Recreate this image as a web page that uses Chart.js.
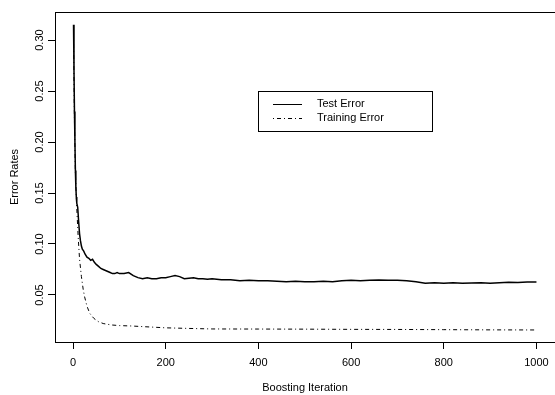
<!DOCTYPE html>
<html>
<head>
<meta charset="utf-8">
<script src="https://cdn.jsdelivr.net/npm/chart.js@4/dist/chart.umd.min.js"></script>
<style>
html,body{margin:0;padding:0;background:#fff;overflow:hidden;width:555px;height:395px;}
canvas{display:block;}
</style>
</head>
<body>
<canvas id="c" width="555" height="395"></canvas>
<script>
// ---- data ----
const testIter = [1,2,3,4,5,6,7,8,10,12,14,16,18,20,23,26,30,34,38,42,46,50,55,60,65,70,75,80,85,90,95,100,110,120,130,140,150,160,170,180,190,200,210,220,230,240,250,260,270,280,290,300,320,340,360,380,400,420,440,460,480,500,520,540,560,580,600,620,640,660,680,700,720,740,760,780,800,820,840,860,880,900,920,940,960,980,1000];
const testError = [0.315,0.27,0.23,0.20,0.172,0.156,0.146,0.140,0.136,0.122,0.110,0.103,0.098,0.095,0.093,0.090,0.087,0.086,0.084,0.085,0.082,0.080,0.078,0.076,0.075,0.074,0.073,0.072,0.071,0.071,0.072,0.071,0.071,0.072,0.069,0.067,0.066,0.067,0.066,0.066,0.067,0.067,0.068,0.069,0.068,0.066,0.0665,0.067,0.066,0.066,0.0655,0.066,0.065,0.065,0.064,0.0645,0.064,0.064,0.0635,0.063,0.0635,0.063,0.063,0.0635,0.063,0.064,0.0645,0.064,0.0645,0.0648,0.0645,0.0645,0.064,0.063,0.0615,0.062,0.0615,0.062,0.0615,0.0618,0.062,0.0615,0.062,0.0625,0.0622,0.0628,0.0628];
const trainIter = [1,3,5,8,11,14,18,22,25,30,36,45,54,65,83,100,126,150,200,250,300,400,500,600,700,800,900,1000];
const trainError = [0.30,0.22,0.17,0.135,0.107,0.085,0.068,0.055,0.048,0.039,0.032,0.027,0.024,0.022,0.0206,0.020,0.0196,0.019,0.0178,0.0172,0.0167,0.0166,0.0165,0.0163,0.0162,0.016,0.0158,0.0157];
const xTicks = [0,200,400,600,800,1000];
const yTicks = [0.05,0.10,0.15,0.20,0.25,0.30];
const seriesNames = ["Test Error","Training Error"];
const xTitle = "Boosting Iteration";
const yTitle = "Error Rates";
const legendAt = {x: 400, y: 0.25};

const FONT = "'Liberation Sans', Arial, Helvetica, sans-serif";

const framePlugin = {
  id: 'frame',
  afterDraw(chart) {
    const ctx = chart.ctx, a = chart.chartArea;
    ctx.save();
    ctx.strokeStyle = '#000';
    ctx.lineWidth = 1;
    // top edge of the plot box (its right edge lies beyond the canvas, as in the reference)
    ctx.beginPath();
    ctx.moveTo(Math.round(a.left), Math.round(a.top)+0.5);
    ctx.lineTo(chart.width, Math.round(a.top)+0.5);
    ctx.stroke();
    // legend placed in data coordinates
    const lx = Math.round(chart.scales.x.getPixelForValue(legendAt.x));
    const ly = Math.round(chart.scales.y.getPixelForValue(legendAt.y));
    ctx.strokeRect(lx+0.5, ly+0.5, 174, 40);
    ctx.font = "11px " + FONT;
    ctx.textBaseline = 'middle';
    ctx.fillStyle = '#000';
    chart.data.datasets.forEach((ds, i) => {
      const yy = ly + 13 + i*13.7;
      ctx.save();
      ctx.strokeStyle = ds.borderColor;
      ctx.lineWidth = 1;
      ctx.setLineDash(ds.borderDash || []);
      ctx.beginPath();
      ctx.moveTo(lx+15, Math.round(yy)+0.5);
      ctx.lineTo(lx+44, Math.round(yy)+0.5);
      ctx.stroke();
      ctx.restore();
      ctx.fillText(ds.label, lx+59, yy);
    });
    ctx.restore();
  }
};

new Chart(document.getElementById('c'), {
  type: 'line',
  data: {
    datasets: [
      { label: seriesNames[0], data: testIter.map((x,i)=>({x:x, y:testError[i]})), borderColor: '#000', borderWidth: 1.5, pointRadius: 0, tension: 0, fill: false },
      { label: seriesNames[1], data: trainIter.map((x,i)=>({x:x, y:trainError[i]})), borderColor: '#000', borderWidth: 1, borderDash: [1,3,4,3], pointRadius: 0, tension: 0, fill: false }
    ]
  },
  options: {
    responsive: false, animation: false, devicePixelRatio: 1,
    layout: { autoPadding: false, padding: { top: 12, right: 0, bottom: 0, left: 0 } },
    plugins: { legend: { display: false }, tooltip: { enabled: false } },
    scales: {
      x: {
        type: 'linear', min: -39, max: 1040,
        afterBuildTicks(s){ s.ticks = xTicks.map(v=>({value:v})); },
        afterFit(s){ s.height = 53; s.paddingRight = 0; s.paddingLeft = 0; },
        grid: { display: true, drawOnChartArea: false, drawTicks: true, tickLength: 7, color: '#000', lineWidth: 1 },
        border: { display: true, color: '#000', width: 1 },
        ticks: { color: '#000', font: { family: FONT, size: 11 }, padding: 7, maxRotation: 0, minRotation: 0, callback: v => String(v) },
        title: { display: true, text: xTitle, color: '#000', font: { family: FONT, size: 11 }, padding: { top: 0, bottom: 0 } }
      },
      y: {
        type: 'linear', min: 0.0039, max: 0.3275,
        afterBuildTicks(s){ s.ticks = yTicks.map(v=>({value:v})); },
        afterFit(s){ s.width = 55; s.paddingTop = 0; s.paddingBottom = 0; },
        grid: { display: true, drawOnChartArea: false, drawTicks: true, tickLength: 7, color: '#000', lineWidth: 1 },
        border: { display: true, color: '#000', width: 1 },
        ticks: { color: '#000', font: { family: FONT, size: 11 }, padding: -3, minRotation: 90, maxRotation: 90, crossAlign: 'center', callback: v => v.toFixed(2) },
        title: { display: true, text: yTitle, color: '#000', font: { family: FONT, size: 11 }, padding: { top: 8, bottom: 0 } }
      }
    }
  },
  plugins: [framePlugin]
});
</script>
</body>
</html>
